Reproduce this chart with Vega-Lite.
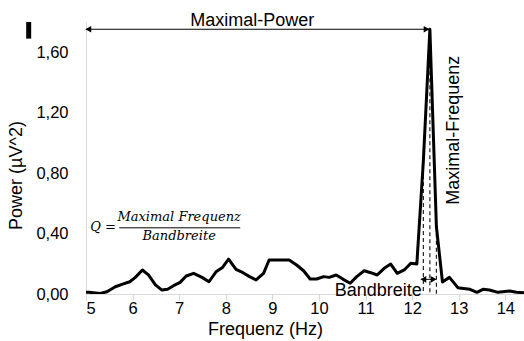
{
  "$schema": "https://vega.github.io/schema/vega-lite/v6.json",
  "width": 438,
  "height": 272,
  "autosize": {"type": "none"},
  "padding": {"left": 86, "top": 22, "right": 0, "bottom": 47},
  "background": "white",
  "config": {
    "view": {"stroke": null},
    "font": "Liberation Sans",
    "axis": {"grid": false, "domainColor": "#d9d9d9", "domainWidth": 1, "tickColor": "#d9d9d9", "labelColor": "#000000", "titleColor": "#000000", "labelFont": "Liberation Sans", "titleFont": "Liberation Sans", "labelFontSize": 16.5, "titleFontSize": 18, "titleFontWeight": "normal"}
  },
  "datasets": {
    "spectrum": [
      {"f": 5.0, "p": 0.011}, {"f": 5.06, "p": 0.011}, {"f": 5.31, "p": 0.004}, {"f": 5.45, "p": 0.015},
      {"f": 5.63, "p": 0.048}, {"f": 5.77, "p": 0.064}, {"f": 5.94, "p": 0.081}, {"f": 6.06, "p": 0.11},
      {"f": 6.21, "p": 0.159}, {"f": 6.34, "p": 0.126}, {"f": 6.49, "p": 0.06}, {"f": 6.63, "p": 0.026},
      {"f": 6.75, "p": 0.031}, {"f": 6.88, "p": 0.055}, {"f": 7.02, "p": 0.077}, {"f": 7.15, "p": 0.119},
      {"f": 7.31, "p": 0.137}, {"f": 7.49, "p": 0.11}, {"f": 7.64, "p": 0.081}, {"f": 7.79, "p": 0.147},
      {"f": 7.93, "p": 0.176}, {"f": 8.06, "p": 0.231}, {"f": 8.22, "p": 0.163}, {"f": 8.37, "p": 0.141},
      {"f": 8.51, "p": 0.115}, {"f": 8.65, "p": 0.093}, {"f": 8.81, "p": 0.137}, {"f": 8.93, "p": 0.225},
      {"f": 9.12, "p": 0.225}, {"f": 9.36, "p": 0.225}, {"f": 9.52, "p": 0.192}, {"f": 9.67, "p": 0.154},
      {"f": 9.81, "p": 0.099}, {"f": 9.95, "p": 0.099}, {"f": 10.1, "p": 0.115}, {"f": 10.22, "p": 0.11},
      {"f": 10.37, "p": 0.126}, {"f": 10.52, "p": 0.097}, {"f": 10.67, "p": 0.071}, {"f": 10.81, "p": 0.115},
      {"f": 10.97, "p": 0.154}, {"f": 11.11, "p": 0.141}, {"f": 11.25, "p": 0.126}, {"f": 11.4, "p": 0.17},
      {"f": 11.54, "p": 0.198}, {"f": 11.68, "p": 0.137}, {"f": 11.83, "p": 0.159}, {"f": 11.97, "p": 0.203},
      {"f": 12.1, "p": 0.198}, {"f": 12.24, "p": 0.88}, {"f": 12.38, "p": 1.752}, {"f": 12.52, "p": 0.445},
      {"f": 12.65, "p": 0.08}, {"f": 12.8, "p": 0.11}, {"f": 12.98, "p": 0.042}, {"f": 13.1, "p": 0.037},
      {"f": 13.24, "p": 0.031}, {"f": 13.39, "p": 0.011}, {"f": 13.52, "p": 0.031}, {"f": 13.66, "p": 0.026},
      {"f": 13.84, "p": 0.011}, {"f": 14.09, "p": 0.02}, {"f": 14.24, "p": 0.011}, {"f": 14.4, "p": 0.009}
    ],
    "dashes": [
      {"f": 12.24, "p": 0.88}, {"f": 12.38, "p": 1.752}, {"f": 12.52, "p": 0.445}
    ],
    "hlines": [
      {"f": 5.0, "f2": 12.36, "p": 1.752},
      {"f": 12.2, "f2": 12.5, "p": 0.097},
      {"f": 5.714, "f2": 8.31, "p": 0.438}
    ],
    "heads": [
      {"f": 5.05, "p": 1.752, "dir": "left"},
      {"f": 12.31, "p": 1.752, "dir": "right"},
      {"f": 12.24, "p": 0.097, "dir": "left"},
      {"f": 12.46, "p": 0.097, "dir": "right"}
    ]
  },
  "encoding": {
    "x": {"field": "f", "type": "quantitative", "title": "Frequenz (Hz)",
      "scale": {"domain": [5, 14.4], "nice": false, "zero": false},
      "axis": {"values": [5, 6, 7, 8, 9, 10, 11, 12, 13, 14], "format": "d", "tickSize": 6, "labelPadding": 0, "titleX": 179, "titleY": 40, "titleBaseline": "alphabetic", "titleAnchor": null, "titleAlign": "center"}},
    "y": {"field": "p", "type": "quantitative", "title": "Power (µV^2)",
      "scale": {"domain": [0, 1.8], "nice": false},
      "axis": {"values": [0, 0.4, 0.8, 1.2, 1.6], "labelExpr": "replace(format(datum.value, '.2f'), '.', ',')", "ticks": false, "labelPadding": 18, "titleX": -65, "titleY": 153, "titleBaseline": "alphabetic", "titleAngle": -90, "titleAlign": "center", "titleAnchor": null}}
  },
  "layer": [
    {
      "data": {"name": "dashes"},
      "mark": {"type": "rule", "strokeDash": [4, 3], "color": "#222222", "strokeWidth": 1.2},
      "encoding": {"y2": {"datum": 0}}
    },
    {
      "data": {"name": "spectrum"},
      "mark": {"type": "line", "color": "#000000", "strokeWidth": 3, "strokeJoin": "round", "clip": true},
      "encoding": {}
    },
    {
      "data": {"name": "hlines"},
      "mark": {"type": "rule", "color": "#000000", "strokeWidth": 1},
      "encoding": {"x2": {"field": "f2"}}
    },
    {
      "data": {"name": "heads"},
      "mark": {"type": "point", "filled": true, "color": "#000000", "opacity": 1, "size": 45},
      "encoding": {"shape": {"field": "dir", "type": "nominal", "scale": {"domain": ["left", "right"], "range": ["triangle-left", "triangle-right"]}, "legend": null}}
    },
    {
      "data": {"values": [{"f": 8.567, "p": 1.772, "label": "Maximal-Power"}]},
      "mark": {"type": "text", "fontSize": 18, "align": "center", "baseline": "alphabetic", "color": "#000000"},
      "encoding": {"text": {"field": "label"}}
    },
    {
      "data": {"values": [{"f": 13.0, "p": 1.084, "label": "Maximal-Frequenz"}]},
      "mark": {"type": "text", "fontSize": 18, "align": "center", "baseline": "alphabetic", "angle": 270, "color": "#000000"},
      "encoding": {"text": {"field": "label"}}
    },
    {
      "data": {"values": [{"f": 12.205, "p": -0.013, "label": "Bandbreite"}]},
      "mark": {"type": "text", "fontSize": 18, "align": "right", "baseline": "alphabetic", "color": "#000000"},
      "encoding": {"text": {"field": "label"}}
    },
    {
      "data": {"values": [{"f": 5.09, "p": 0.418, "label": "Q ="}]},
      "mark": {"type": "text", "font": "DejaVu Serif", "fontStyle": "italic", "fontSize": 13, "align": "left", "baseline": "alphabetic", "color": "#000000"},
      "encoding": {"text": {"field": "label"}}
    },
    {
      "data": {"values": [{"f": 7.0, "p": 0.483, "label": "Maximal Frequenz"}, {"f": 7.0, "p": 0.357, "label": "Bandbreite"}]},
      "mark": {"type": "text", "font": "DejaVu Serif", "fontStyle": "italic", "fontSize": 13, "align": "center", "baseline": "alphabetic", "color": "#000000"},
      "encoding": {"text": {"field": "label"}}
    },
    {
      "data": {"values": [{"f": 3.77, "p": 1.8, "p2": 1.69}]},
      "mark": {"type": "rule", "color": "#000000", "strokeWidth": 5},
      "encoding": {"y2": {"field": "p2"}}
    }
  ]
}
